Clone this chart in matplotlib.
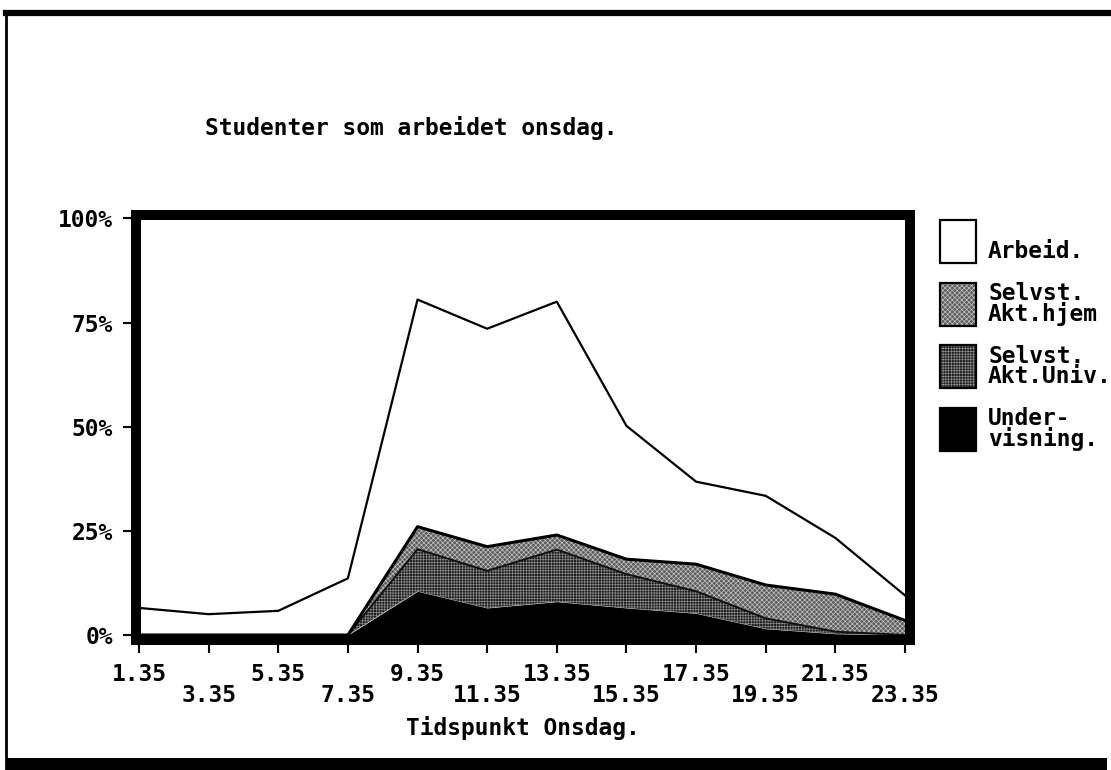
import numpy as np
import matplotlib.pyplot as plt
from matplotlib.patches import Rectangle
from matplotlib.lines import Line2D

# tidspunkt onsdag (hver andre time)
tider = [1.35, 3.35, 5.35, 7.35, 9.35, 11.35, 13.35, 15.35, 17.35, 19.35, 21.35, 23.35]
tid_labels = ['1.35', '3.35', '5.35', '7.35', '9.35', '11.35', '13.35',
              '15.35', '17.35', '19.35', '21.35', '23.35']

# andel studenter (%) per aktivitet, lest av figuren
undervisning = [0, 0, 0, 0, 10.5, 6.5, 8.0, 6.5, 5.2, 1.5, 0.3, 0]
akt_univ = [0, 0, 0, 0, 10.1, 8.9, 12.5, 8.1, 5.3, 2.5, 0.5, 0]
akt_hjem = [0, 0, 0, 0, 5.4, 5.8, 3.5, 3.6, 6.5, 8.0, 9.0, 3.5]
arbeid = [6.5, 5.0, 5.8, 13.6, 54.5, 52.3, 56.0, 32.0, 19.8, 21.4, 13.5, 6.0]

y_ticks = [0, 25, 50, 75, 100]
y_labels = ['0%', '25%', '50%', '75%', '100%']

leg_labels = ['Arbeid.', 'Selvst.\nAkt.hjem', 'Selvst.\nAkt.Univ.', 'Under-\nvisning.']

FS = 16.5
mono = dict(family='DejaVu Sans Mono', weight='bold', size=FS)
plt.rcParams['hatch.linewidth'] = 0.5

W, H = 1111, 770
fig = plt.figure(figsize=(W / 100, H / 100), dpi=100)
ax = fig.add_axes([136 / W, 130 / H, 773.5 / W, 425 / H])

x = np.array(tider)
lag = np.cumsum([undervisning, akt_univ, akt_hjem, arbeid], axis=0)
bunn = [np.zeros(len(x)), lag[0], lag[1], lag[2]]

# fyllfarge, monster og monsterfarge for hvert lag
fyll = ['black', '#1c1c1c', '#5c5c5c', 'white']
monster = [None, '++++++', 'xxxxxxx', None]
monsterfarge = ['black', '#8a8a8a', '#c4c4c4', 'white']
for i in range(4):
    ax.fill_between(x, bunn[i], lag[i], facecolor=fyll[i], hatch=monster[i],
                    edgecolor=monsterfarge[i], linewidth=0, zorder=1)

ax.plot(x, lag[1], color='#111111', lw=1.4, zorder=2)
ax.plot(x, lag[2], color='black', lw=2.2, zorder=2)
ax.plot(x, lag[3], color='black', lw=1.6, zorder=2)

ax.set_xlim(1.264, 23.48)
ax.set_ylim(-1.2, 100.8)
for s in ax.spines.values():
    s.set_linewidth(7.2)
    s.set_color('black')

tick_font = dict(fontfamily=mono['family'], fontweight='bold', fontsize=FS)
ax.set_xticks(tider[0::2], tid_labels[0::2], **tick_font)
ax.set_xticks(tider[1::2], tid_labels[1::2], minor=True, **tick_font)
ax.set_yticks(y_ticks, y_labels, **tick_font)
ax.tick_params(which='both', direction='out', length=9.5, width=1.5, pad=7, color='black')
ax.tick_params(axis='x', which='minor', pad=22)

ax.set_xlabel('Tidspunkt Onsdag.', fontdict=mono)
ax.xaxis.set_label_coords(0.5, -0.207)
ax.xaxis.label.set_va('center')

fig.text(205 / W, 1 - 128 / H, 'Studenter som arbeidet onsdag.',
         ha='left', va='center', fontdict=mono)

# forklaring (fra toppen: Arbeid, hjem, Univ, Undervisning)
for i, lab in enumerate(leg_labels):
    j = 3 - i
    top = 220 + i * 62.5
    fig.add_artist(Rectangle((940 / W, 1 - (top + 43) / H), 36 / W, 43 / H,
                             transform=fig.transFigure, facecolor=fyll[j],
                             hatch=monster[j], edgecolor=monsterfarge[j], linewidth=0))
    fig.add_artist(Rectangle((940 / W, 1 - (top + 43) / H), 36 / W, 43 / H,
                             transform=fig.transFigure, facecolor='none',
                             edgecolor='black', linewidth=1.6))
    yc = top + 21.5 + (10 if '\n' not in lab else 0)
    fig.text(988 / W, 1 - yc / H, lab, ha='left', va='center',
             fontdict=mono, linespacing=0.85)

# ytre ramme
fig.add_artist(Line2D([6 / W, 1], [1 - 13 / H, 1 - 13 / H], color='black', lw=4.5,
                      transform=fig.transFigure))
fig.add_artist(Line2D([6 / W, 6 / W], [1 - 13 / H, 0], color='black', lw=2,
                      transform=fig.transFigure))
fig.add_artist(Rectangle((6 / W, 0), 1101 / W, 12 / H, transform=fig.transFigure,
                         facecolor='black', edgecolor='none'))

fig.savefig('out.png', dpi=100)
